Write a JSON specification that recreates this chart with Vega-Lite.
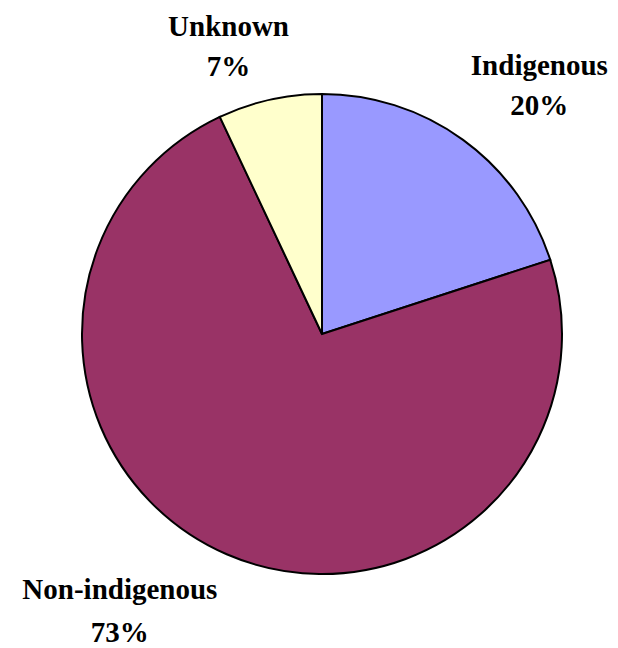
{
  "$schema": "https://vega.github.io/schema/vega-lite/v6.json",
  "autosize": "none",
  "width": 592,
  "height": 628,
  "padding": {"left": 26, "right": 0, "top": 20, "bottom": 0},
  "background": "white",
  "view": {"stroke": null},
  "data": {
    "values": [
      {"category": "Indigenous", "value": 20, "label": "Indigenous\n20%"},
      {"category": "Non-indigenous", "value": 73, "label": "Non-indigenous\n73%"},
      {"category": "Unknown", "value": 7, "label": "Unknown\n7%"}
    ]
  },
  "encoding": {
    "theta": {"field": "value", "type": "quantitative", "stack": true},
    "order": {"field": "category", "type": "nominal"}
  },
  "layer": [
    {
      "mark": {"type": "arc", "outerRadius": 240, "stroke": "black", "strokeWidth": 2},
      "encoding": {
        "color": {
          "field": "category",
          "type": "nominal",
          "scale": {"domain": ["Indigenous", "Non-indigenous", "Unknown"], "range": ["#9999FF", "#993366", "#FFFFCC"]},
          "legend": null
        }
      }
    },
    {
      "mark": {"type": "text", "radius": 300, "dx": 41, "dy": -25, "font": "Liberation Serif", "fontWeight": "bold", "fontSize": 29, "lineBreak": "\n", "lineHeight": 40, "align": "center", "baseline": "middle", "color": "black"},
      "encoding": {
        "detail": {"field": "category", "type": "nominal"},
        "text": {"condition": {"test": "datum.category === 'Indigenous'", "field": "label"}, "value": ""}
      }
    },
    {
      "mark": {"type": "text", "radius": 300, "dx": -83, "dy": -19, "font": "Liberation Serif", "fontWeight": "bold", "fontSize": 29, "lineBreak": "\n", "lineHeight": 43, "align": "center", "baseline": "middle", "color": "black"},
      "encoding": {
        "detail": {"field": "category", "type": "nominal"},
        "text": {"condition": {"test": "datum.category === 'Non-indigenous'", "field": "label"}, "value": ""}
      }
    },
    {
      "mark": {"type": "text", "radius": 300, "dx": -28, "dy": -14, "font": "Liberation Serif", "fontWeight": "bold", "fontSize": 29, "lineBreak": "\n", "lineHeight": 40, "align": "center", "baseline": "middle", "color": "black"},
      "encoding": {
        "detail": {"field": "category", "type": "nominal"},
        "text": {"condition": {"test": "datum.category === 'Unknown'", "field": "label"}, "value": ""}
      }
    }
  ]
}
